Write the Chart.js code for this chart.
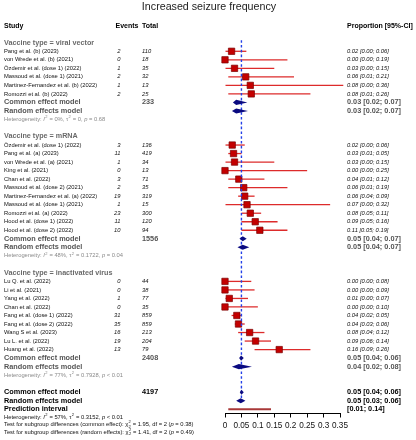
<!DOCTYPE html>
<html><head><meta charset="utf-8">
<script src="https://cdn.jsdelivr.net/npm/chart.js@4.4.0/dist/chart.umd.min.js"></script>
<style>html,body{margin:0;padding:0;background:#fff}#c{display:block}</style>
</head><body>
<canvas id="c" width="416" height="440"></canvas>
<script>
// ---------- data ----------
const chartTitle = "Increased seizure frequency";
const colHeaders = ["Study", "Events", "Total", "Proportion [95%-CI]"];
const groupLabels = ["Vaccine type = viral vector", "Vaccine type = mRNA", "Vaccine type = inactivated virus"];

const vvStudies = ["Pang et al. (b) (2023)","von Wrede et al. (b) (2021)","Özdemir et al. (dose 1) (2022)","Massoud et al. (dose 1) (2021)","Martinez-Fernandez et al. (b) (2022)","Romozzi et al. (b) (2022)"];
const vvEvents = [2,0,1,2,1,2];
const vvTotals = [110,18,35,32,13,25];
const vvProp  = [0.020,0.000,0.029,0.063,0.077,0.080];
const vvLower = [0.00,0.00,0.00,0.01,0.00,0.01];
const vvUpper = [0.065,0.19,0.15,0.21,0.36,0.26];
const vvCI = ["0.02 [0.00; 0.06]","0.00 [0.00; 0.19]","0.03 [0.00; 0.15]","0.06 [0.01; 0.21]","0.08 [0.00; 0.36]","0.08 [0.01; 0.26]"];

const mrStudies = ["Özdemir et al. (dose 1) (2022)","Pang et al. (a) (2023)","von Wrede et al. (a) (2021)","King et al. (2021)","Chan et al. (2022)","Massoud et al. (dose 2) (2021)","Martinez-Fernandez et al. (a) (2022)","Massoud et al. (dose 1) (2021)","Romozzi et al. (a) (2022)","Hood et al. (dose 1) (2022)","Hood et al. (dose 2) (2022)"];
const mrEvents = [3,11,1,0,3,2,19,1,23,11,10];
const mrTotals = [136,419,34,13,71,35,319,15,300,120,94];
const mrProp  = [0.022,0.026,0.029,0.000,0.042,0.057,0.060,0.067,0.077,0.092,0.106];
const mrLower = [0.00,0.01,0.00,0.00,0.01,0.01,0.04,0.00,0.05,0.05,0.05];
const mrUpper = [0.06,0.05,0.15,0.25,0.12,0.19,0.09,0.32,0.11,0.16,0.19];
const mrCI = ["0.02 [0.00; 0.06]","0.03 [0.01; 0.05]","0.03 [0.00; 0.15]","0.00 [0.00; 0.25]","0.04 [0.01; 0.12]","0.06 [0.01; 0.19]","0.06 [0.04; 0.09]","0.07 [0.00; 0.32]","0.08 [0.05; 0.11]","0.09 [0.05; 0.16]","0.11 [0.05; 0.19]"];

const ivStudies = ["Lu Q. et al. (2022)","Li et al. (2021)","Yang et al. (2022)","Chan et al. (2022)","Fang et al. (dose 1) (2022)","Fang et al. (dose 2) (2022)","Wang S et al. (2023)","Lu L. et al. (2022)","Huang et al. (2022)"];
const ivEvents = [0,0,1,0,31,35,16,19,13];
const ivTotals = [44,38,77,35,859,859,213,204,79];
const ivProp  = [0.000,0.000,0.013,0.000,0.036,0.041,0.075,0.093,0.165];
const ivLower = [0.00,0.00,0.00,0.00,0.02,0.03,0.04,0.06,0.09];
const ivUpper = [0.08,0.09,0.07,0.10,0.05,0.06,0.12,0.14,0.26];
const ivCI = ["0.00 [0.00; 0.08]","0.00 [0.00; 0.09]","0.01 [0.00; 0.07]","0.00 [0.00; 0.10]","0.04 [0.02; 0.05]","0.04 [0.03; 0.06]","0.08 [0.04; 0.12]","0.09 [0.06; 0.14]","0.16 [0.09; 0.26]"];

const groupTotals = [233, 1556, 2408];
const commonEst = [0.034, 0.054, 0.049];
const commonLo  = [0.024, 0.044, 0.043];
const commonHi  = [0.068, 0.066, 0.057];
const randomEst = [0.034, 0.054, 0.042];
const randomLo  = [0.021, 0.038, 0.021];
const randomHi  = [0.070, 0.074, 0.082];
const commonCI = ["0.03 [0.02; 0.07]","0.05 [0.04; 0.07]","0.05 [0.04; 0.06]"];
const randomCI = ["0.03 [0.02; 0.07]","0.05 [0.04; 0.07]","0.04 [0.02; 0.08]"];
const hetI2  = ["0%","48%","77%"];
const hetTau = ["0","0.1722","0.7928"];
const hetP   = ["= 0.68","= 0.04","< 0.01"];

const overallTotal = 4197;
const overallCommon = [0.045, 0.050, 0.057];
const overallRandom = [0.034, 0.048, 0.062];
const predInterval = [0.01, 0.14];
const overallCommonCI = "0.05 [0.04; 0.06]";
const overallRandomCI = "0.05 [0.03; 0.06]";
const predCI = "[0.01; 0.14]";
const overallHet = ["57%", "0.3152", "< 0.01"];
const testCommon = ["1.95", "2", "0.38"];
const testRandom = ["1.41", "2", "0.49"];
const refLine = 0.05;

const xTicks = [0, 0.05, 0.1, 0.15, 0.2, 0.25, 0.3, 0.35];
const tickLabels = ["0","0.05","0.1","0.15","0.2","0.25","0.3","0.35"];

// ---------- row layout ----------
const groups = [
  {label: groupLabels[0], s: vvStudies, e: vvEvents, n: vvTotals, p: vvProp, lo: vvLower, hi: vvUpper, ci: vvCI},
  {label: groupLabels[1], s: mrStudies, e: mrEvents, n: mrTotals, p: mrProp, lo: mrLower, hi: mrUpper, ci: mrCI},
  {label: groupLabels[2], s: ivStudies, e: ivEvents, n: ivTotals, p: ivProp, lo: ivLower, hi: ivUpper, ci: ivCI}
];
let r = 2;
groups.forEach(g => {
  g.headRow = r;
  g.rows = g.s.map((_, i) => r + 1 + i);
  g.commonRow = r + g.s.length + 1;
  g.randomRow = r + g.s.length + 2;
  g.hetRow = r + g.s.length + 3;
  r = r + g.s.length + 5;
});
const ovCommonRow = r, ovRandomRow = r + 1, predRow = r + 2;
const ovHetRow = r + 2.92, testRow1 = r + 3.8, testRow2 = r + 4.7;

const squares = [], ciBars = [], diamonds = [];
groups.forEach((g, gi) => {
  g.rows.forEach((row, i) => {
    squares.push({x: g.p[i], y: row});
    ciBars.push({x: [g.lo[i], g.hi[i]], y: row});
  });
  diamonds.push({row: g.commonRow, lo: commonLo[gi], est: commonEst[gi], hi: commonHi[gi]});
  diamonds.push({row: g.randomRow, lo: randomLo[gi], est: randomEst[gi], hi: randomHi[gi]});
});
diamonds.push({row: ovCommonRow, lo: overallCommon[0], est: overallCommon[1], hi: overallCommon[2]});
diamonds.push({row: ovRandomRow, lo: overallRandom[0], est: overallRandom[1], hi: overallRandom[2]});

// ---------- drawing helpers ----------
const FAM = '"Liberation Sans", Arial, Helvetica, sans-serif';
function font(size, bold, italic) { return (italic ? 'italic ' : '') + (bold ? 'bold ' : '') + size + 'px ' + FAM; }
function txt(ctx, s, x, y, size, color, opts) {
  opts = opts || {};
  ctx.font = font(size, opts.bold, opts.italic);
  ctx.fillStyle = color;
  ctx.textAlign = opts.align || 'left';
  ctx.textBaseline = 'middle';
  ctx.fillText(s, x, y);
}
function rich(ctx, segs, x, y, size, color) {
  let cx = x;
  ctx.fillStyle = color; ctx.textAlign = 'left'; ctx.textBaseline = 'middle';
  segs.forEach(sg => {
    if (typeof sg === 'string') {
      ctx.font = font(size); ctx.fillText(sg, cx, y); cx += ctx.measureText(sg).width;
    } else if (sg.i) {
      ctx.font = font(size, false, true); ctx.fillText(sg.i, cx, y); cx += ctx.measureText(sg.i).width;
    } else {
      ctx.font = font(size * 0.7);
      let w = 0;
      if (sg.sup) { ctx.fillText(sg.sup, cx + 0.3, y - size * 0.4); w = Math.max(w, ctx.measureText(sg.sup).width); }
      if (sg.sub) { ctx.fillText(sg.sub, cx + 0.3, y + size * 0.32); w = Math.max(w, ctx.measureText(sg.sub).width); }
      cx += w + 0.6;
    }
  });
}

const X_STUDY = 4, X_EVENTS = 120.5, X_TOTAL = 142, X_CI = 347;
const S_SMALL = 5.8, S_HEAD = 7, S_MODEL = 7.3;
const GRAY_HEAD = '#6a6a6a', GRAY_MODEL = '#555555', GRAY_HET = '#8a8a8a';

const forestPlugin = {
  id: 'forest',
  afterDatasetsDraw(chart) {
    const {ctx, scales: {x, y}} = chart;
    ctx.save();
    // reference dashed line
    const xr = x.getPixelForValue(refLine);
    ctx.strokeStyle = '#2340e8'; ctx.lineWidth = 1.4; ctx.setLineDash([2.6, 2.2]);
    ctx.beginPath(); ctx.moveTo(xr, y.getPixelForValue(1.7)); ctx.lineTo(xr, y.getPixelForValue(44.15)); ctx.stroke();
    ctx.setLineDash([]);
    // diamonds
    ctx.fillStyle = '#0a0a80';
    diamonds.forEach(d => {
      const yc = y.getPixelForValue(d.row), h = y.getPixelForValue(d.row + 0.3) - yc;
      ctx.beginPath();
      ctx.moveTo(x.getPixelForValue(d.lo), yc);
      ctx.lineTo(x.getPixelForValue(d.est), yc - h);
      ctx.lineTo(x.getPixelForValue(d.hi), yc);
      ctx.lineTo(x.getPixelForValue(d.est), yc + h);
      ctx.closePath(); ctx.fill();
    });
    ctx.restore();
  },
  afterDraw(chart) {
    const {ctx, scales: {y}} = chart;
    const Y = v => y.getPixelForValue(v);
    ctx.save();
    txt(ctx, chartTitle, 209, 7, 10.7, '#222', {align: 'center'});
    txt(ctx, colHeaders[0], X_STUDY, Y(0), S_HEAD, '#000', {bold: true});
    txt(ctx, colHeaders[1], 115.5, Y(0), S_HEAD, '#000', {bold: true});
    txt(ctx, colHeaders[2], X_TOTAL, Y(0), S_HEAD, '#000', {bold: true});
    txt(ctx, colHeaders[3], X_CI, Y(0), S_HEAD, '#000', {bold: true});
    groups.forEach((g, gi) => {
      txt(ctx, g.label, X_STUDY, Y(g.headRow), 7.2, GRAY_HEAD, {bold: true});
      g.rows.forEach((row, i) => {
        txt(ctx, g.s[i], X_STUDY, Y(row), S_SMALL, '#111');
        txt(ctx, String(g.e[i]), X_EVENTS, Y(row), S_SMALL, '#111', {italic: true, align: 'right'});
        txt(ctx, String(g.n[i]), X_TOTAL, Y(row), S_SMALL, '#111', {italic: true});
        txt(ctx, g.ci[i], X_CI, Y(row), S_SMALL, '#111', {italic: true});
      });
      txt(ctx, 'Common effect model', X_STUDY, Y(g.commonRow), S_MODEL, GRAY_MODEL, {bold: true});
      txt(ctx, String(groupTotals[gi]), X_TOTAL, Y(g.commonRow), S_MODEL, GRAY_MODEL, {bold: true});
      txt(ctx, commonCI[gi], X_CI, Y(g.commonRow), S_MODEL, GRAY_MODEL, {bold: true});
      txt(ctx, 'Random effects model', X_STUDY, Y(g.randomRow), S_MODEL, GRAY_MODEL, {bold: true});
      txt(ctx, randomCI[gi], X_CI, Y(g.randomRow), S_MODEL, GRAY_MODEL, {bold: true});
      rich(ctx, ['Heterogeneity: ', {i: 'I'}, {sup: '2'}, ' = ' + hetI2[gi] + ', \u03c4', {sup: '2'}, ' = ' + hetTau[gi] + ', ', {i: 'p'}, ' ' + hetP[gi]], X_STUDY, Y(g.hetRow), S_SMALL, GRAY_HET);
    });
    txt(ctx, 'Common effect model', X_STUDY, Y(ovCommonRow), S_MODEL, '#000', {bold: true});
    txt(ctx, String(overallTotal), X_TOTAL, Y(ovCommonRow), S_MODEL, '#000', {bold: true});
    txt(ctx, overallCommonCI, X_CI, Y(ovCommonRow), S_MODEL, '#000', {bold: true});
    txt(ctx, 'Random effects model', X_STUDY, Y(ovRandomRow), S_MODEL, '#000', {bold: true});
    txt(ctx, overallRandomCI, X_CI, Y(ovRandomRow), S_MODEL, '#000', {bold: true});
    txt(ctx, 'Prediction interval', X_STUDY, Y(predRow), S_MODEL, '#000', {bold: true});
    txt(ctx, predCI, X_CI, Y(predRow), S_MODEL, '#000', {bold: true});
    rich(ctx, ['Heterogeneity: ', {i: 'I'}, {sup: '2'}, ' = ' + overallHet[0] + ', \u03c4', {sup: '2'}, ' = ' + overallHet[1] + ', ', {i: 'p'}, ' ' + overallHet[2]], X_STUDY, Y(ovHetRow), S_SMALL, '#111');
    rich(ctx, ['Test for subgroup differences (common effect): \u03c7', {sup: '2', sub: '2'}, ' = ' + testCommon[0] + ', df = ' + testCommon[1] + ' (', {i: 'p'}, ' = ' + testCommon[2] + ')'], X_STUDY, Y(testRow1), S_SMALL, '#111');
    rich(ctx, ['Test for subgroup differences (random effects): \u03c7', {sup: '2', sub: '2'}, ' = ' + testRandom[0] + ', df = ' + testRandom[1] + ' (', {i: 'p'}, ' = ' + testRandom[2] + ')'], X_STUDY, Y(testRow2), S_SMALL, '#111');
    ctx.restore();
  }
};

new Chart(document.getElementById('c'), {
  type: 'scatter',
  data: {
    datasets: [
      {type: 'scatter', data: squares, pointStyle: 'rect', pointRadius: 4.5, pointHoverRadius: 4.5,
       backgroundColor: '#c40000', borderColor: '#7a0000', borderWidth: 0.7, clip: false},
      {type: 'bar', indexAxis: 'y', data: ciBars, backgroundColor: '#dd2b2b', borderWidth: 0,
       grouped: false, maxBarThickness: 1.3, inflateAmount: 0, clip: false},
      {type: 'bar', indexAxis: 'y', data: [{x: predInterval, y: predRow}], backgroundColor: '#a83838', borderWidth: 0,
       grouped: false, maxBarThickness: 2.2, inflateAmount: 0, clip: false}
    ]
  },
  options: {
    responsive: false, animation: false, devicePixelRatio: 1,
    events: [],
    layout: {padding: {left: 225, right: 76, top: 17.2, bottom: 8.5}},
    plugins: {legend: {display: false}, tooltip: {enabled: false}},
    scales: {
      x: {
        type: 'linear', position: 'bottom', min: 0, max: 0.35, offset: false,
        afterBuildTicks: s => { s.ticks = xTicks.map(v => ({value: v})); },
        afterFit: s => { s.height = 18; },
        ticks: {callback: (v, i) => tickLabels[i], color: '#111', padding: 3,
                font: {family: FAM, size: 8.2}, maxRotation: 0, autoSkip: false},
        grid: {drawOnChartArea: false, drawTicks: true, tickLength: 4, color: '#000', lineWidth: 1},
        border: {display: true, color: '#000', width: 1}
      },
      y: {type: 'linear', display: false, min: -1, max: 45.5, reverse: true, offset: false}
    }
  },
  plugins: [forestPlugin]
});
</script>
</body></html>
